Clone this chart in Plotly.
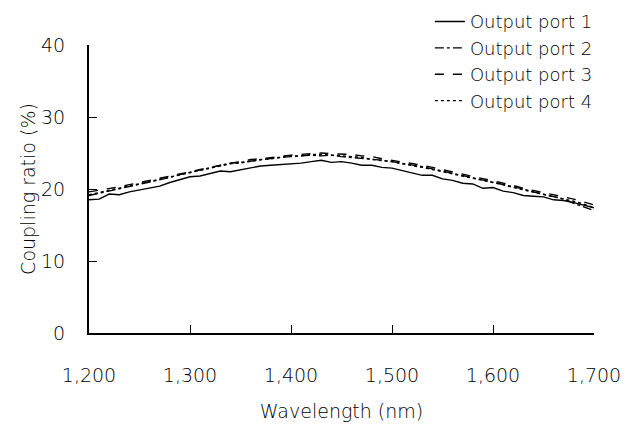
import plotly.graph_objects as go

wavelength = list(range(1200, 1701, 10))

port1 = [18.5, 18.6, 19.3, 19.2, 19.6, 19.9, 20.2, 20.4, 20.9, 21.3,
         21.7, 21.8, 22.2, 22.5, 22.4, 22.7, 22.9, 23.2, 23.3, 23.4,
         23.4, 23.6, 23.8, 24.0, 23.7, 23.8, 23.6, 23.3, 23.3, 23.0,
         22.9, 22.6, 22.2, 21.9, 21.9, 21.4, 21.2, 20.8, 20.7, 20.1,
         20.2, 19.7, 19.5, 19.1, 19.0, 18.9, 18.5, 18.4, 18.1, 17.7, 17.4]

port2 = [19.1, 19.4, 19.8, 20.0, 20.4, 20.6, 21.0, 21.3, 21.6, 22.0,
         22.3, 22.6, 22.9, 23.2, 23.6, 23.7, 23.9, 24.1, 24.3, 24.4,
         24.5, 24.6, 24.7, 24.6, 24.7, 24.5, 24.4, 24.2, 24.2, 24.0,
         23.8, 23.6, 23.3, 23.1, 22.8, 22.5, 22.2, 21.8, 21.6, 21.3,
         20.9, 20.6, 20.4, 20.0, 19.6, 19.3, 19.0, 18.6, 18.0, 17.5, 17.0]

port3 = [19.6, 19.8, 20.1, 20.3, 20.6, 20.9, 21.2, 21.5, 21.8, 22.1,
         22.4, 22.8, 23.0, 23.3, 23.6, 23.8, 24.1, 24.2, 24.4, 24.6,
         24.7, 24.8, 24.9, 25.0, 24.9, 24.9, 24.8, 24.6, 24.5, 24.2,
         24.0, 23.8, 23.5, 23.3, 23.0, 22.7, 22.4, 22.1, 21.8, 21.4,
         21.1, 20.8, 20.5, 20.1, 19.8, 19.6, 19.3, 19.0, 18.6, 18.2, 17.8]

port4 = [19.2, 19.5, 19.9, 20.2, 20.4, 20.8, 21.1, 21.4, 21.7, 22.0,
         22.2, 22.6, 22.9, 23.1, 23.5, 23.6, 23.9, 24.1, 24.2, 24.4,
         24.6, 24.6, 24.8, 24.8, 24.7, 24.6, 24.5, 24.4, 24.1, 24.0,
         23.8, 23.5, 23.3, 23.0, 22.7, 22.4, 22.1, 21.9, 21.5, 21.2,
         20.9, 20.6, 20.2, 19.9, 19.6, 19.3, 19.0, 18.6, 18.3, 17.9, 17.4]

names = ["Output port 1", "Output port 2", "Output port 3", "Output port 4"]
dashes = ["solid", "dashdot", "dash", "dot"]

x_ticks = [1200, 1300, 1400, 1500, 1600, 1700]
x_ticklabels = ["1,200", "1,300", "1,400", "1,500", "1,600", "1,700"]
y_ticks = [0, 10, 20, 30, 40]

fig = go.Figure()
for name, ys, d in zip(names, [port1, port2, port3, port4], dashes):
    fig.add_trace(go.Scatter(x=wavelength, y=ys, mode="lines", name=name,
                             line=dict(color="black", width=1.4, dash=d)))

font = dict(family="DejaVu Sans", size=19, color="#000", weight=300)
legend_font = dict(family="DejaVu Sans", size=18, color="#000", weight=300)
fig.update_layout(
    width=627, height=428,
    margin=dict(l=89, r=33, t=45, b=95, autoexpand=False),
    plot_bgcolor="white", paper_bgcolor="white",
    font=font,
    showlegend=True,
    legend=dict(x=0.675, y=1.145, xanchor="left", yanchor="top",
                bgcolor="rgba(0,0,0,0)", font=legend_font,
                tracegroupgap=0, itemwidth=30),
)
fig.update_xaxes(
    range=[1200, 1700], tickvals=x_ticks, ticktext=x_ticklabels,
    showgrid=False, zeroline=False, showline=True, linecolor="black", linewidth=2,
    ticks="inside", ticklen=8, tickcolor="black", tickwidth=1,
    ticklabelstandoff=24, tickfont=font, automargin=False,
    title=dict(text="Wavelength (nm)", standoff=20, font=font),
)
fig.update_yaxes(
    range=[0, 40], tickvals=y_ticks,
    showgrid=False, zeroline=False, showline=True, linecolor="black", linewidth=2,
    ticks="inside", ticklen=8, tickcolor="black", tickwidth=1,
    ticklabelstandoff=18, tickfont=font, automargin=False,
    title=dict(text="Coupling ratio (%)", standoff=0, font=font),
)

fig.write_html("out.html")
